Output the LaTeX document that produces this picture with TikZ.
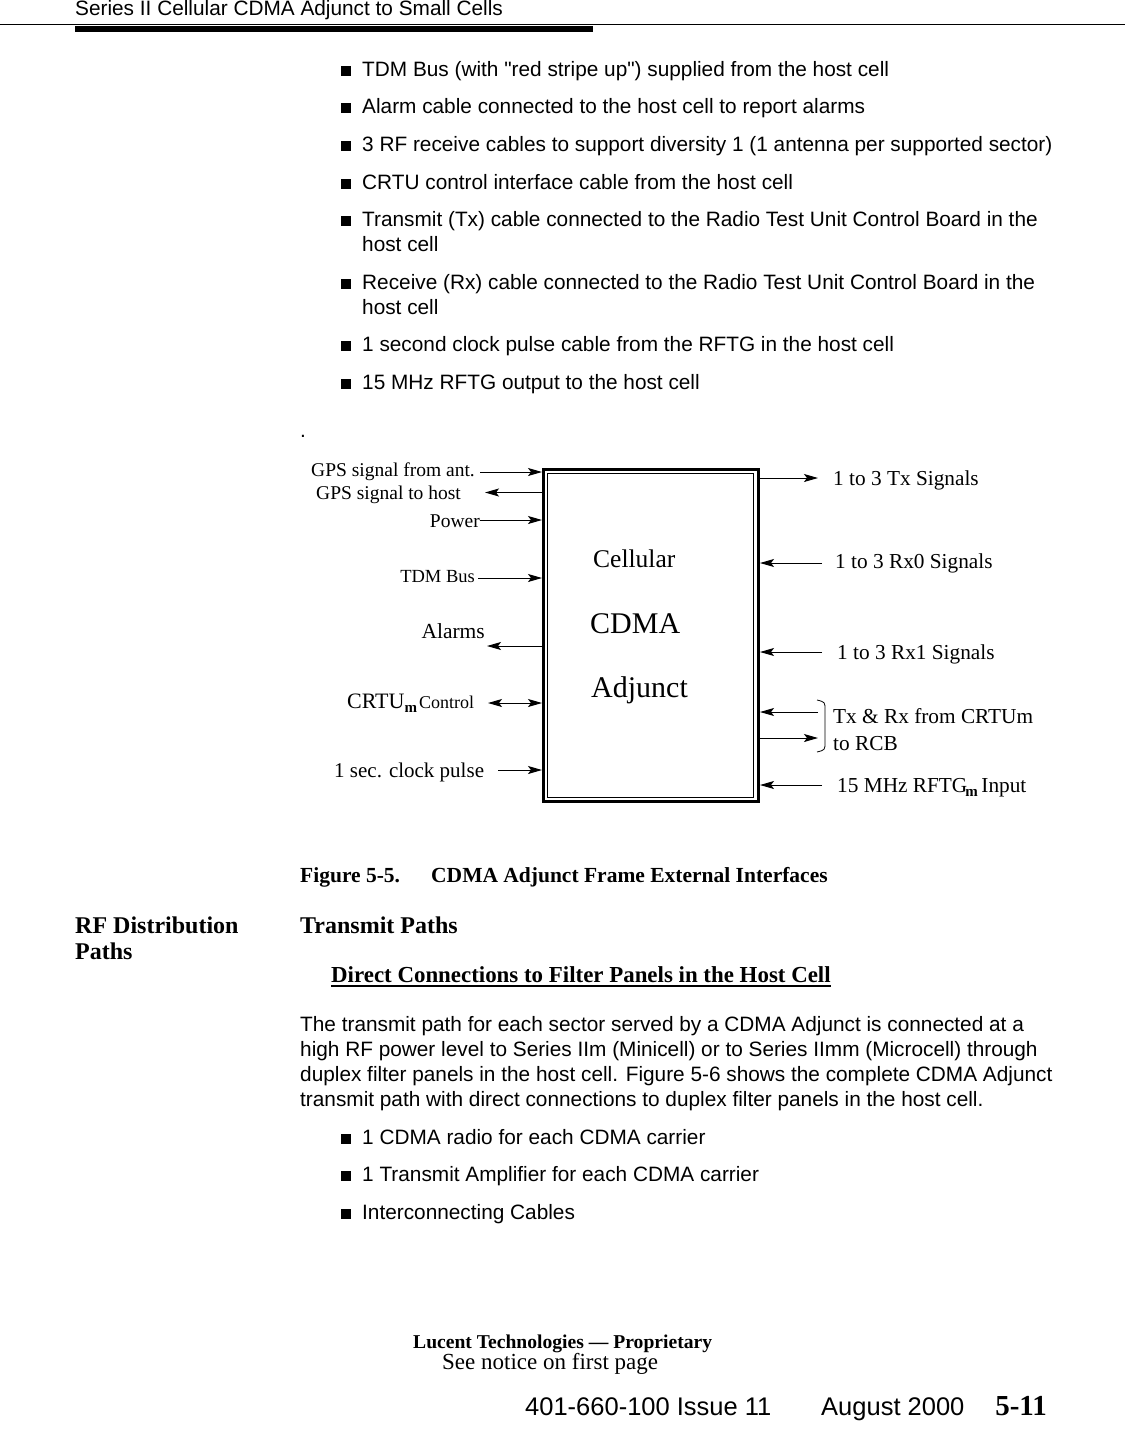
\documentclass[tikz,border=0pt]{standalone}
\usepackage{fontspec}
\setmainfont{Liberation Serif}
\newfontfamily\sansf{Liberation Sans}
\usetikzlibrary{arrows.meta}
\begin{document}
\begin{tikzpicture}[x=1pt,y=-1pt,
  body/.style={anchor=base west, inner sep=0pt, font=\sansf\fontsize{20.8}{24}\selectfont},
  bul/.style={rectangle, fill=black, minimum size=10pt, inner sep=0pt},
  lab/.style={inner sep=0pt, font=\fontsize{19.5}{22}\selectfont},
  rlab/.style={inner sep=0pt, anchor=base west, font=\fontsize{21.3}{24}\selectfont},
  head/.style={anchor=base west, inner sep=0pt, font=\bfseries\fontsize{24}{28}\selectfont},
  sig/.style={line width=1pt, -{Stealth[length=14pt,width=8pt,inset=3pt]}},
  dsig/.style={line width=1pt, {Stealth[length=14pt,width=8pt,inset=3pt]}-{Stealth[length=14pt,width=8pt,inset=3pt]}},
]
\useasboundingbox[fill=white] (0,0) rectangle (1125,1430);

% ---------- page header ----------
\node[anchor=base west, inner sep=0pt, font=\sansf\fontsize{20.8}{24}\selectfont] (hdr) at (75,15) {Series II Cellular CDMA Adjunct to Small Cells};
\draw[line width=0.8pt] (0,24) -- (1125,24);
\fill (75,25.5) rectangle (593,32);

% ---------- bullet list ----------
\foreach \i/\yb/\t in {1/76/{TDM Bus (with "red stripe up") supplied from the host cell},
  2/113/{Alarm cable connected to the host cell to report alarms},
  3/151/{3 RF receive cables to support diversity 1 (1 antenna per supported sector)},
  4/189/{CRTU control interface cable from the host cell},
  5/226/{Transmit (Tx) cable connected to the Radio Test Unit Control Board in the},
  6/289/{Receive (Rx) cable connected to the Radio Test Unit Control Board in the},
  7/351/{1 second clock pulse cable from the RFTG in the host cell},
  8/389/{15 MHz RFTG output to the host cell}}{
  \node[bul] (bu\i) at (345.5,\yb-5.5) {};
  \node[body] (bt\i) at (362,\yb) {\t};
}
\node[body] (bt5b) at (362,251) {host cell};
\node[body] (bt6b) at (362,314) {host cell};
\node[body] (dot) at (300,437) {.};

% ---------- figure ----------
\node[draw, line width=3pt, rectangle, minimum width=215pt, minimum height=332pt, inner sep=0pt] (box) at (651,635) {};
\node[draw, line width=1pt, rectangle, minimum width=206pt, minimum height=324pt, inner sep=0pt] (boxin) at (650,635) {};
\node[anchor=base west, inner sep=0pt, font=\fontsize{25.5}{28}\selectfont] (cell) at (593,567) {Cellular};
\node[anchor=base west, inner sep=0pt, font=\fontsize{30}{34}\selectfont] (cdma) at (590,633) {CDMA};
\node[anchor=base west, inner sep=0pt, font=\fontsize{30}{34}\selectfont] (adj) at (591,697) {Adjunct};

% left side
\node[lab, anchor=base east] (gpsf) at (475,476) {GPS signal from ant.};
\coordinate (gpsfs) at (480,472);
\draw[sig] (gpsfs) -- (gpsfs -| box.west);

\node[lab, anchor=base west] (gpst) at (316,499) {GPS signal to host};
\coordinate (gpste) at (485,492.5);
\draw[sig] (gpste -| box.west) -- (gpste);

\node[lab, anchor=base east] (pwr) at (480,527) {Power};
\coordinate (pwrs) at (480,520);
\draw[sig] (pwrs) -- (pwrs -| box.west);

\node[inner sep=0pt, anchor=base east, font=\fontsize{18.5}{20}\selectfont] (tdm) at (475,582) {TDM Bus};
\coordinate (tdms) at (478,578);
\draw[sig] (tdms) -- (tdms -| box.west);

\node[inner sep=0pt, anchor=base east, font=\fontsize{21.5}{24}\selectfont] (alm) at (485,638) {Alarms};
\coordinate (alme) at (487,646);
\draw[sig] (alme -| box.west) -- (alme);

\node[inner sep=0pt, anchor=base west, font=\fontsize{22}{24}\selectfont] (crtu) at (347,708) {CRTU\raisebox{-4pt}{\fontsize{15}{15}\selectfont\bfseries m}\kern2pt{\fontsize{18}{20}\selectfont Control}};
\coordinate (crtue) at (488,703);
\draw[dsig] (crtue) -- (crtue -| box.west);

\node[inner sep=0pt, anchor=base west, font=\fontsize{21}{24}\selectfont] (clk) at (334,777) {1 sec. clock pulse};
\coordinate (clks) at (498,770);
\draw[sig] (clks) -- (clks -| box.west);

% right side
\node[rlab] (tx) at (833,485) {1 to 3 Tx Signals};
\coordinate (txe) at (818,478);
\draw[sig] (txe -| box.east) -- (txe);

\node[rlab] (rx0) at (835,568) {1 to 3 Rx0 Signals};
\coordinate (rx0s) at (822,563);
\draw[sig] (rx0s) -- (rx0s -| box.east);

\node[rlab] (rx1) at (837,659) {1 to 3 Rx1 Signals};
\coordinate (rx1s) at (822,652);
\draw[sig] (rx1s) -- (rx1s -| box.east);

\node[rlab] (trx1) at (833,723) {Tx \& Rx from CRTUm};
\node[rlab] (trx2) at (833,750) {to RCB};
\coordinate (trxa) at (818,712);
\coordinate (trxb) at (818,738);
\draw[sig] (trxa) -- (trxa -| box.east);
\draw[sig] (trxb -| box.east) -- (trxb);
\coordinate (brt) at (817,700);
\coordinate (brb) at (817,752);
\draw[line width=0.8pt] (brt) .. controls (825,702) .. (825,710) -- (825,742) .. controls (825,750) .. (brb);

\node[rlab] (mhz) at (837,792) {15 MHz RFTG\kern-2pt\raisebox{-4pt}{\fontsize{15}{15}\selectfont\bfseries m}\,Input};
\coordinate (mhzs) at (822,785);
\draw[sig] (mhzs) -- (mhzs -| box.east);

% ---------- caption & section ----------
\node[anchor=base west, inner sep=0pt, font=\bfseries\fontsize{21.5}{24}\selectfont] (fig) at (300,882) {Figure 5-5.};
\node[anchor=base west, inner sep=0pt, font=\bfseries\fontsize{21.5}{24}\selectfont] (figt) at (431,882) {CDMA Adjunct Frame External Interfaces};
\node[head] (rfd) at (75,933) {RF Distribution};
\node[head] (rfd2) at (75,959) {Paths};
\node[head] (tp) at (300,933) {Transmit Paths};
\node[anchor=base west, inner sep=0pt, font=\bfseries\fontsize{22.9}{26}\selectfont] (dc) at (331,982) {Direct Connections to Filter Panels in the Host Cell};
\draw[line width=1.8pt] ([yshift=-4pt]dc.base west) -- ([yshift=-4pt]dc.base east);

% ---------- paragraph ----------
\node[body] (p1) at (300,1031) {The transmit path for each sector served by a CDMA Adjunct is connected at a};
\node[body] (p2) at (300,1056) {high RF power level to Series IIm (Minicell) or to Series IImm (Microcell) through};
\node[body] (p3) at (300,1081) {duplex filter panels in the host cell. Figure 5-6 shows the complete CDMA Adjunct};
\node[body] (p4) at (300,1106) {transmit path with direct connections to duplex filter panels in the host cell.};
\foreach \i/\yb/\t in {9/1144/{1 CDMA radio for each CDMA carrier},
  10/1181/{1 Transmit Amplifier for each CDMA carrier},
  11/1219/{Interconnecting Cables}}{
  \node[bul] (bu\i) at (345.5,\yb-5.5) {};
  \node[body] (bt\i) at (362,\yb) {\t};
}

% ---------- footer ----------
\node[anchor=base west, inner sep=0pt, font=\bfseries\fontsize{19.6}{22}\selectfont] (luc) at (413,1348) {Lucent Technologies --- Proprietary};
\node[anchor=base west, inner sep=0pt, font=\fontsize{23}{26}\selectfont] (see) at (442,1369) {See notice on first page};
\node[anchor=base west, inner sep=0pt, font=\sansf\fontsize{25.5}{28}\selectfont] (doc) at (525,1415) {401-660-100 Issue 11};
\node[anchor=base west, inner sep=0pt, font=\sansf\fontsize{25.5}{28}\selectfont] (date) at (821,1415) {August 2000};
\node[anchor=base east, inner sep=0pt, font=\bfseries\fontsize{29}{32}\selectfont] (pg) at (1047,1415) {5-11};
\end{tikzpicture}
\end{document}
